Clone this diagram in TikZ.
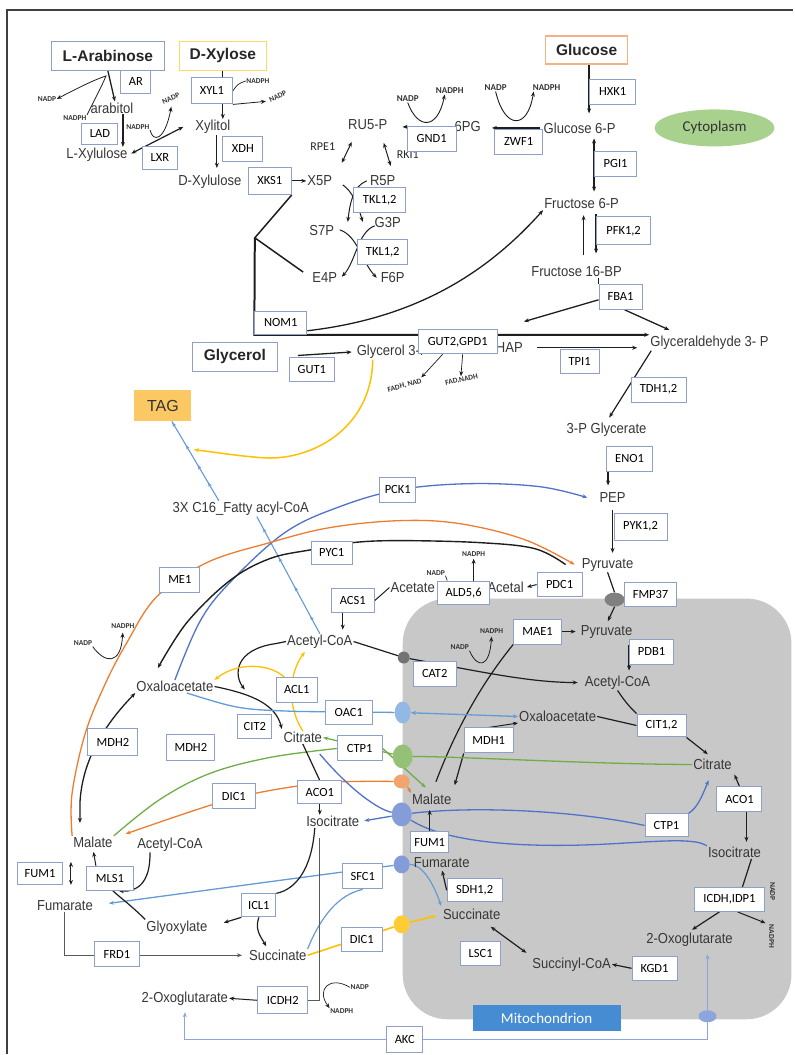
\documentclass[tikz,border=0pt]{standalone}
\usepackage{fontspec}
\setmainfont{Liberation Sans}
\newfontfamily\metfont[FakeStretch=0.9]{Liberation Sans}
\newfontfamily\enzfont{Carlito}
\usetikzlibrary{arrows.meta,shapes.geometric,decorations.markings}
\definecolor{metc}{RGB}{55,55,55}
\definecolor{boxb}{RGB}{140,160,200}
\definecolor{orn}{RGB}{237,125,49}
\definecolor{grn}{RGB}{112,173,71}
\definecolor{blu}{RGB}{80,115,200}
\definecolor{lblu}{RGB}{100,155,215}
\definecolor{yel}{RGB}{255,192,0}
\definecolor{mitog}{RGB}{200,200,200}
\definecolor{mitolab}{RGB}{70,140,210}
\definecolor{tagf}{RGB}{252,200,100}
\definecolor{cytf}{RGB}{169,209,142}
\definecolor{akcb}{RGB}{140,165,220}
\definecolor{glcb}{RGB}{244,177,131}
\definecolor{xylb}{RGB}{255,217,102}
\definecolor{lnc}{RGB}{30,30,30}
\newcommand{\enzbox}[6]{\node[enz,minimum width=#4pt,minimum height=#5pt] (#1) at (#2,#3) {#6};}
\pgfdeclarelayer{bg}
\pgfdeclarelayer{edges}
\pgfsetlayers{bg,edges,main}
\begin{document}
\begin{tikzpicture}[x=1pt,y=-1pt,
  met/.style={font=\metfont\fontsize{14.5}{15}\selectfont, text=metc, inner sep=1pt},
  enz/.style={draw=boxb, line width=1pt, fill=white, font=\enzfont\fontsize{12.5}{13}\selectfont, inner sep=1pt, text=black},
  src/.style={draw=boxb, line width=1.2pt, fill=white, font=\bfseries\fontsize{15.5}{16}\selectfont, inner sep=1pt, text=black!85},
  cof/.style={font=\enzfont\bfseries\fontsize{9}{10}\selectfont, inner sep=0.5pt, text=black!80},
  cofs/.style={font=\enzfont\bfseries\fontsize{7.5}{8}\selectfont, inner sep=0.5pt, text=black!80},
  lab/.style={font=\enzfont\fontsize{12}{13}\selectfont, inner sep=1pt, text=black!85},
  ar/.style={-{Stealth[length=5pt,width=4pt]}, line width=1pt, color=lnc},
  dar/.style={{Stealth[length=5pt,width=4pt]}-{Stealth[length=5pt,width=4pt]}, line width=1pt, color=lnc},
  ln/.style={line width=1pt, color=lnc},
  tr/.style={ellipse, draw=none, inner sep=0pt},
  mkfa/.style={postaction={decorate},decoration={markings,
     mark=at position 0.15 with {\arrow{Stealth[length=4.5pt,width=3.5pt]}},
     mark=at position 0.4 with {\arrow{Stealth[length=4.5pt,width=3.5pt]}},
     mark=at position 0.65 with {\arrow{Stealth[length=4.5pt,width=3.5pt]}},
     mark=at position 0.9 with {\arrow{Stealth[length=4.5pt,width=3.5pt]}}}},
  mktag/.style={postaction={decorate},decoration={markings,
     mark=at position 0.23 with {\arrow{Stealth[length=4.5pt,width=3.5pt]}},
     mark=at position 0.45 with {\arrow{Stealth[length=4.5pt,width=3.5pt]}},
     mark=at position 0.7 with {\arrow{Stealth[length=4.5pt,width=3.5pt]}},
     mark=at position 0.99 with {\arrow{Stealth[length=4.5pt,width=3.5pt]}}}},
]
\begin{pgfonlayer}{bg}
\fill[white] (0,0) rectangle (794,1055);
\draw[line width=1.5pt, black!75] (7,1055) -- (7,10) -- (794,10);
\fill[mitog, rounded corners=45pt] (403,599) rectangle (792,1020);
\end{pgfonlayer}
\useasboundingbox (0,0) rectangle (794,1055);
\node[ellipse, fill=cytf, minimum width=120pt, minimum height=37pt, font=\enzfont\fontsize{15}{16}\selectfont, text=black!80] (cyto) at (715,128) {Cytoplasm};

% ---------------- transporters ----------------
\node[tr,fill=black!55,minimum width=12pt,minimum height=12pt] (cat2t) at (404,658) {};
\node[tr,fill=lblu!70,minimum width=16pt,minimum height=22pt] (oact) at (403,713) {};
\node[tr,fill=grn!75,minimum width=20pt,minimum height=24pt] (ctpgt) at (403,757) {};
\node[tr,fill=orn!70,minimum width=16pt,minimum height=14pt] (dicot) at (402,782) {};
\node[tr,fill=blu!70,minimum width=20pt,minimum height=24pt] (ctpbt) at (402,815) {};
\node[tr,fill=blu!70,minimum width=16pt,minimum height=18pt] (sfct) at (402,865) {};
\node[tr,fill=yel!80,minimum width=16pt,minimum height=18pt] (dicyt) at (402,925) {};
\node[tr,fill=akcb,minimum width=18pt,minimum height=12pt] (akct) at (708,1017) {};
\node[tr,fill=black!50,minimum width=20pt,minimum height=14pt] (fmpt) at (615,600) {};

% ---------------- metabolites ----------------
\node[met] (arabitol) at (112,108) {arabitol};
\node[met] (lxylu) at (97,155) {L-Xylulose};
\node[met] (xylitol) at (213,127) {Xylitol};
\node[met] (dxylu) at (210,182) {D-Xylulose};
\node[met] (x5p) at (320,181) {X5P};
\node[met] (r5p) at (383,181) {R5P};
\node[met] (s7p) at (322,231) {S7P};
\node[met] (g3p) at (388,223) {G3P};
\node[met] (e4p) at (325,278) {E4P};
\node[met] (f6p) at (393,278) {F6P};
\node[met] (ru5p) at (368,125) {RU5-P};
\node[met] (pg6) at (468,127) {6PG};
\node[met] (g6p) at (580,128) {Glucose 6-P};
\node[met] (fru6p) at (582,204) {Fructose 6-P};
\node[met] (fbp) at (577,272) {Fructose 16-BP};
\node[met] (gly3p) at (393,352) {Glycerol 3-P};
\node[met] (dhap) at (505,348) {DHAP};
\node[met] (gap) at (710,343) {Glyceraldehyde 3- P};
\node[met] (pga) at (607,430) {3-P Glycerate};
\node[met] (pep) at (613,498) {PEP};
\node[met] (pyr) at (608,565) {Pyruvate};
\node[met] (acetal) at (506,588) {Acetal};
\node[met] (acetate) at (413,588) {Acetate};
\node[met] (accoa) at (320,642) {Acetyl-CoA};
\node[met] (fa) at (241,509) {3X C16\_Fatty acyl-CoA};
\node[met] (oaa) at (175,687) {Oxaloacetate};
\node[met] (cit) at (303,738) {Citrate};
\node[met] (icit) at (333,822) {Isocitrate};
\node[met] (malc) at (93,843) {Malate};
\node[met] (accoab) at (170,845) {Acetyl-CoA};
\node[met] (fumc) at (65,906) {Fumarate};
\node[met] (glx) at (177,928) {Glyoxylate};
\node[met] (succ) at (278,956) {Succinate};
\node[met] (akg) at (185,999) {2-Oxoglutarate};
\node[met] (mpyr) at (607,632) {Pyruvate};
\node[met] (maccoa) at (618,683) {Acetyl-CoA};
\node[met] (moaa) at (558,717) {Oxaloacetate};
\node[met] (mcit) at (713,765) {Citrate};
\node[met] (mmal) at (432,800) {Malate};
\node[met] (micit) at (735,853) {Isocitrate};
\node[met] (makg) at (690,940) {2-Oxoglutarate};
\node[met] (msucc) at (472,915) {Succinate};
\node[met] (msuccoa) at (572,965) {Succinyl-CoA};
\node[met] (mfum) at (442,863) {Fumarate};

% ---------------- cofactors / labels ----------------
\node[cofs] (nadpa) at (47,99) {NADP};
\node[cofs] (nadpha) at (75,118) {NADPH};
\node[cofs] (nadphb) at (138,127) {NADPH};
\node[cofs, rotate=25] (nadpb) at (171,99) {NADP};
\node[cofs] (nadphc) at (258,81) {NADPH};
\node[cofs, rotate=25] (nadpc) at (278,97) {NADP};
\node[cof] (nadpd) at (408,99) {NADP};
\node[cof] (nadphd) at (450,91) {NADPH};
\node[cof] (nadpe) at (496,88) {NADP};
\node[cof] (nadphe) at (547,88) {NADPH};
\node[cofs, rotate=15] (fadh) at (405,386) {FADH, NAD};
\node[cofs, rotate=12] (fad) at (462,380) {FAD,NADH};
\node[cofs] (nadpf) at (436,573) {NADP};
\node[cofs] (nadphf) at (474,554) {NADPH};
\node[cofs] (nadpg) at (460,648) {NADP};
\node[cofs] (nadphg) at (492,632) {NADPH};
\node[cofs] (nadpm) at (83,644) {NADP};
\node[cofs] (nadphm) at (123,627) {NADPH};
\node[cofs, rotate=-90] (nadpi) at (773,892) {NADP};
\node[cofs, rotate=-90] (nadphi) at (772,937) {NADPH};
\node[cofs] (nadpj) at (360,988) {NADP};
\node[cofs] (nadphj) at (342,1012) {NADPH};
\node[lab] (rpe1) at (323,147) {RPE1};
\node[lab] (rki1) at (408,155) {RKI1};

% ---------------- enzymes ----------------
\enzbox{ar}{136}{82}{30}{23}{AR}
\enzbox{lad}{100}{134}{36}{21}{LAD}
\enzbox{lxr}{160}{158}{35}{23}{LXR}
\enzbox{xyl1}{212}{91}{41}{26}{XYL1}
\enzbox{xdh}{243}{149}{40}{25}{XDH}
\enzbox{xks1}{270}{181}{43}{27}{XKS1}
\enzbox{gnd1}{432}{139}{49}{25}{GND1}
\enzbox{zwf1}{519}{142}{48}{25}{ZWF1}
\enzbox{hxk1}{613}{92}{46}{25}{HXK1}
\enzbox{pgi1}{616}{164}{42}{25}{PGI1}
\enzbox{pfk}{624}{231}{54}{28}{PFK1,2}
\enzbox{tkla}{380}{200}{52}{25}{TKL1,2}
\enzbox{tklb}{383}{252}{50}{25}{TKL1,2}
\enzbox{nom1}{281}{323}{52}{23}{NOM1}
\enzbox{fba1}{621}{297}{43}{25}{FBA1}
\enzbox{gut2}{458}{342}{79}{24}{GUT2,GPD1}
\enzbox{gut1}{312}{370}{45}{24}{GUT1}
\enzbox{tpi1}{580}{362}{39}{24}{TPI1}
\enzbox{tdh}{659}{390}{55}{25}{TDH1,2}
\enzbox{eno1}{630}{459}{46}{25}{ENO1}
\enzbox{pyk}{641}{527}{53}{27}{PYK1,2}
\enzbox{pck1}{398}{490}{36}{25}{PCK1}
\enzbox{pdc1}{560}{585}{45}{24}{PDC1}
\enzbox{ald}{464}{593}{52}{23}{ALD5,6}
\enzbox{acs1}{353}{601}{43}{24}{ACS1}
\enzbox{pyc1}{332}{553}{41}{23}{PYC1}
\enzbox{me1}{180}{580}{40}{25}{ME1}
\enzbox{fmp}{651}{595}{52}{24}{FMP37}
\enzbox{mae1}{538}{632}{48}{25}{MAE1}
\enzbox{pdb1}{652}{652}{44}{25}{PDB1}
\enzbox{cat2}{435}{674}{43}{25}{CAT2}
\enzbox{acl1}{297}{690}{41}{25}{ACL1}
\enzbox{oac1}{349}{713}{47}{25}{OAC1}
\enzbox{cit2}{255}{727}{34}{25}{CIT2}
\enzbox{cit12}{662}{726}{49}{23}{CIT1,2}
\enzbox{mdh1}{489}{741}{49}{25}{MDH1}
\enzbox{mdha}{113}{743}{50}{27}{MDH2}
\enzbox{mdhb}{191}{748}{48}{26}{MDH2}
\enzbox{ctpa}{360}{749}{45}{25}{CTP1}
\enzbox{dica}{234}{797}{43}{25}{DIC1}
\enzbox{acoa}{320}{793}{44}{23}{ACO1}
\enzbox{acob}{740}{800}{45}{25}{ACO1}
\enzbox{ctpb}{667}{826}{43}{23}{CTP1}
\enzbox{fuma}{40}{874}{45}{22}{FUM1}
\enzbox{mls1}{110}{879}{47}{24}{MLS1}
\enzbox{fumb}{430}{843}{38}{21}{FUM1}
\enzbox{sfc1}{363}{877}{40}{25}{SFC1}
\enzbox{icl1}{259}{906}{34}{23}{ICL1}
\enzbox{sdh}{475}{891}{55}{23}{SDH1,2}
\enzbox{icdh}{730}{900}{70}{24}{ICDH,IDP1}
\enzbox{dicb}{362}{940}{41}{24}{DIC1}
\enzbox{frd1}{117}{955}{45}{25}{FRD1}
\enzbox{lsc1}{481}{954}{40}{24}{LSC1}
\enzbox{kgd1}{655}{969}{45}{24}{KGD1}
\enzbox{icdh2}{283}{1001}{50}{27}{ICDH2}
\enzbox{akc}{405}{1040}{36}{26}{AKC}

% ---------------- sources & labels ----------------
\node[src, minimum width=113pt, minimum height=29pt] (larab) at (108,56) {L-Arabinose};
\node[src, draw=xylb, minimum width=87pt, minimum height=29pt] (dxyl) at (223,56) {D-Xylose};
\node[src, draw=glcb, minimum width=82pt, minimum height=28pt] (glc) at (587,50) {Glucose};
\node[src, minimum width=85pt, minimum height=29pt] (glyc) at (235,357) {Glycerol};
\node[fill=tagf, minimum width=57pt, minimum height=31pt, font=\fontsize{16}{17}\selectfont, text=black!80] (tag) at (163,406) {TAG};
\node[fill=mitolab, minimum width=148pt, minimum height=26pt, font=\enzfont\fontsize{15}{16}\selectfont, text=white] (mitol) at (547,1019) {Mitochondrion};

% ---------------- connectors ----------------
\begin{pgfonlayer}{edges}
% top-left
\draw[ar,line width=1.3pt] (larab.south) -- ([xshift=3pt]arabitol.north);
\draw[ar,line width=0.8pt] (nadpha.north east) .. controls (97,95) and (103,84) .. (106,76) .. controls (94,80) and (80,87) .. (nadpa.east);
\coordinate (arx) at ([xshift=11pt]arabitol.south);
\draw[ar,line width=1.3pt] (arx) -- (arx |- lxylu.north);
\draw[dar,line width=1.2pt,shorten <=3pt] (lxylu.east) -- ([xshift=-11pt]xylitol.west);
\draw[ar,line width=0.8pt,shorten >=5pt] (nadphb.south east) .. controls (153,143) and (165,141) .. (nadpb.south);
\draw[ar,line width=1.2pt] (dxyl.south) -- (dxyl.south |- xylitol.north);
\draw[ln,line width=0.7pt] (xyl1.east) .. controls (238,84) .. (nadphc.west);
\draw[ar,line width=0.8pt,shorten >=3pt] (xyl1.south east) -- (nadpc.west);
\coordinate (xdhx) at ([xshift=4pt]xylitol.south);
\draw[ar,line width=1.3pt,shorten >=6pt] (xdhx) -- (xdhx |- dxylu.north);
\draw[ar] (xks1.east) -- (x5p.west);
% pentose phosphate
\draw[ar,line width=1.8pt,shorten <=4pt,shorten >=14pt] (pg6.west) -- (pg6.west -| ru5p.east);
\draw[ar,line width=0.9pt] (nadpd.south) .. controls (418,130) and (438,130) .. ([xshift=-5pt]nadphd.south);
\draw[ar,line width=1.8pt,shorten <=3pt,shorten >=10pt] (g6p.west) -- (g6p.west -| pg6.east);
\draw[ar,line width=0.9pt] (nadpe.south) .. controls (505,130) and (528,130) .. ([xshift=-13pt]nadphe.south);
\draw[dar] (352,142) -- (342,163);
\draw[dar] (384,143) -- (391,166);
\draw[ar] (343,185) .. controls (353,192) and (358,205) .. (363,222);
\draw[ar] (367,181) .. controls (353,186) and (350,205) .. (348,222);
\draw[ar] (375,226) .. controls (358,232) and (356,262) .. (342,277);
\draw[ar] (340,230) .. controls (358,236) and (362,262) .. (377,278);
\coordinate (jct) at (255,238);
\draw[ln,line width=1.5pt,shorten >=10pt] (xks1.south east) -- (jct) -- (e4p.west);
\draw[ar,line width=2pt] (jct) -- (nom1.south west) -- (nom1.south west -| gap.west);
\draw[ar,line width=1.3pt] ([yshift=-8pt]nom1.east) .. controls (420,318) and (490,270) .. (fru6p.south west);
% glycolysis
\draw[ar,line width=1.4pt,shorten >=8pt] (glc.south -| hxk1.west) -- (g6p.north -| hxk1.west);
\draw[dar,line width=1.4pt,shorten <=4pt,shorten >=6pt] (g6p.south -| pgi1.west) -- (fru6p.north -| pgi1.west);
\draw[ar,line width=1.4pt,shorten <=4pt,shorten >=12pt] (fru6p.south -| pfk.west) -- (fbp.north -| pfk.west);
\coordinate (fbpx) at ([xshift=7pt]fbp.north);
\draw[ar,line width=1pt,shorten <=10pt,shorten >=5pt] (fbpx) -- (fbpx |- fru6p.south);
\draw[ln,line width=1.2pt] (fbp.south -| fba1.west) -- (fba1.north west);
\draw[ar,line width=1.3pt] ([yshift=-3pt]fba1.west) -- ([yshift=20pt]dhap.north east);
\draw[ar,line width=1.3pt,shorten >=2pt] ([xshift=4pt]fba1.south) -- ([xshift=22pt,yshift=4pt]gap.north west);
\draw[ar,line width=1.4pt,shorten <=13pt,shorten >=12pt] (dhap.east) -- (dhap.east -| gap.west);
\draw[ar,line width=1.2pt,shorten >=5pt] ([xshift=2pt]gap.south west) -- (pga.north);
\coordinate (enox) at ([xshift=2pt]eno1.south west);
\draw[ar,line width=1.2pt,shorten >=6pt] (enox) -- (enox |- pep.north);
\draw[ar,line width=1.2pt,shorten <=6pt,shorten >=4pt] (pep.south) -- (pep.south |- pyr.north);
% glycerol
\draw[ar,line width=1.3pt,shorten <=20pt,shorten >=4pt] (glyc.east) -- (gly3p.west);
\draw[ar,line width=0.7pt] ([xshift=-15pt]gut2.south) -- (fadh.north east);
\draw[ar,line width=0.7pt] ([xshift=5pt]gut2.south) -- (fad.north);
\coordinate (tagj) at (194,450);
\draw[ar,yel,line width=1.5pt] ([xshift=-20pt]gly3p.south) .. controls (372,430) and (310,462) .. (262,458) .. controls (235,456) and (212,452) .. (tagj);
% fatty acids
\draw[lblu,line width=1.1pt,mkfa] (accoa.north) -- ([xshift=16pt]fa.south);
\draw[lblu,line width=1.1pt,mktag] ([xshift=-22pt]fa.north) -- ([xshift=9pt]tag.south);
% big arcs
\draw[ar,blu,line width=1.3pt] plot[smooth,tension=0.6] coordinates {(oaa.north) (200,622) (230,583) (285,533) (340,507) (400,490) (470,484) (540,487) ([xshift=-11pt]pep.west)};
\draw[ar,orn,line width=1.3pt] plot[smooth,tension=0.6] coordinates {(malc.north west) (72,795) (85,735) (105,685) (127,643) (157,597) (207,563) (270,543) (330,528) (400,521) (460,524) (525,540) ([xshift=-6pt]pyr.west)};
\draw[ar,line width=1.4pt] plot[smooth,tension=0.6] coordinates {([xshift=-15pt]pyr.west) (535,549) (480,543) (400,541) (353,543) (312,550) (270,559) (230,581) (187,623) ([shift={(-17,-12)}]oaa.north)};
\draw[ar,line width=0.8pt,shorten >=3pt] (nadpm.south east) .. controls (105,664) and (121,666) .. (nadphm.south);
% pyruvate / acetyl-CoA
\draw[ar,shorten >=2pt] (pdc1.west) -- (acetal.east);
\draw[ln,line width=0.7pt] (nadpf.south east) -- ([xshift=10pt]ald.north west);
\coordinate (aldx) at ([xshift=10pt]ald.north);
\draw[ar,line width=0.8pt,shorten >=2pt] (aldx) -- (aldx |- nadphf.south);
\draw[ln] (acetate.west) -- (acs1.east);
\coordinate (acsx) at ([xshift=-10pt]acs1.south);
\draw[ar,shorten >=4pt] (acsx) -- (acsx |- accoa.north);
\draw[ln,line width=1.2pt] (pyr.south) -- (fmpt.north);
\draw[ar,line width=1.2pt,shorten >=3pt] (fmpt.south) -- (mpyr.north);
\draw[ar,line width=1.2pt,shorten <=6pt,shorten >=4pt] (mpyr.south -| pdb1.west) -- (maccoa.north -| pdb1.west);
\draw[ar,shorten >=4pt] (mae1.east) -- (mpyr.west);
\draw[ln,line width=1.2pt,shorten <=12pt] (mmal.north) .. controls (458,725) and (485,680) .. (mae1.south west);
\draw[ar,line width=0.8pt,shorten >=2pt] (nadpg.south east) .. controls (478,670) and (490,668) .. (nadphg.south);
\draw[ln,line width=1.2pt] (accoa.east) -- (cat2t);
\draw[ar,line width=1.2pt,shorten >=6pt] (cat2t) .. controls (480,672) and (530,683) .. (maccoa.west);
\draw[ln,line width=1.2pt] (maccoa.south) .. controls (628,706) and (633,710) .. (cit12.north west);
\draw[ln,line width=1.2pt] (moaa.east) -- (cit12.west);
\draw[ar,line width=1.2pt,shorten >=6pt] (cit12.south east) -- (mcit.north);
\draw[ar,line width=1.2pt,shorten >=8pt] (mdh1.south west) -- (mmal.north east);
\draw[ar,line width=1pt] (mdh1.north) -- (moaa.south west);
% cytosolic citrate region
\coordinate (j1) at (245,690);
\draw[ar,line width=1.2pt] (accoa.west) -- ++(-10,2) .. controls (234,650) and (234,676) .. (j1);
\draw[ar,line width=1.2pt,shorten >=2pt] (oaa.east) .. controls (255,695) and (276,706) .. (cit.north west);
\draw[ar,yel,line width=1.3pt,shorten >=3pt] (cit.north) .. controls (286,705) and (290,672) .. ([xshift=-13pt]accoa.south);
\coordinate (j2) at (291,686);
\draw[ar,yel,line width=1.3pt] (j2) .. controls (280,664) and (240,660) .. (oaa.north east);
\draw[dar,lblu,line width=1.3pt] ([xshift=12pt]oaa.south) .. controls (240,710) .. (300,712) -- (oact) -- (moaa.west);
% CTP1 green
\draw[ar,grn,line width=1.3pt] (mcit.west) .. controls (600,765) and (460,757) .. (ctpgt) -- (cit.east);
\draw[ar,grn,line width=1.3pt,shorten >=8pt] (ctpa.east) -- (mmal.north);
\draw[grn,line width=1.3pt] plot[smooth,tension=0.6] coordinates {(ctpa.west) (270,758) (210,774) (160,800) (malc.north east)};
% DIC1 orange
\draw[ar,orn,line width=1.3pt] plot[smooth,tension=0.6] coordinates {(dicot.west) (330,783) (265,792) (213,805) ([xshift=12pt,yshift=2pt]malc.north east)};
\draw[ar,orn,line width=1.2pt] (dicot.south east) -- (mmal.north west);
% CTP1 blue
\draw[blu,line width=1.3pt] ([xshift=17pt,yshift=-10pt]cit.south) .. controls (350,790) and (378,810) .. (ctpbt);
\draw[ar,blu,line width=1.3pt,shorten >=4pt] (ctpbt) -- (icit.east);
\draw[blu,line width=1.3pt] (ctpbt) .. controls (480,806) and (580,812) .. (ctpb.west);
\draw[ar,blu,line width=1.3pt,shorten >=10pt] (ctpb.north east) .. controls (698,808) and (702,798) .. (mcit.south);
\draw[blu,line width=1.3pt] (ctpbt) .. controls (450,845) and (530,848) .. (600,845) .. controls (660,842) and (695,838) .. (micit.north west);
% SFC1
\draw[ar,lblu,line width=1.3pt,shorten >=15pt] (sfct) .. controls (340,873) .. (265,883) -- (fumc.east);
\draw[ar,lblu,line width=1.2pt,shorten >=2pt] (sfct) .. controls (422,865) and (433,882) .. (msucc.north west);
\draw[lblu,line width=1.2pt] (succ.north east) .. controls (322,915) and (340,895) .. (sfc1.south);
% DIC1 yellow
\draw[ar,yel,line width=1.6pt,shorten >=6pt] (succ.east) -- (dicyt) -- (msucc.west);
% mitochondrial TCA
\draw[ar,line width=1.2pt,shorten >=4pt] (acob.north) -- (mcit.south east);
\coordinate (acobx) at ([xshift=7pt]acob.south);
\draw[ar,line width=1.2pt,shorten >=4pt] (acobx) -- (acobx |- micit.north);
\draw[ln,line width=1.2pt] ([xshift=17pt]micit.south) -- ([xshift=13pt]icdh.north);
\draw[ar,line width=1.2pt,shorten >=3pt] ([xshift=-10pt]icdh.south) -- (makg.north);
\draw[ar,line width=1pt,shorten >=3pt] ([xshift=8pt]icdh.south) -- (nadphi.south west);
\draw[ar,line width=1.2pt] (kgd1.west) -- (msuccoa.east);
\coordinate (lscx) at ([xshift=11pt]msucc.south);
\draw[dar,line width=1.2pt,shorten <=10pt,shorten >=6pt] (lscx) -- (msuccoa.north west);
\draw[ar,line width=1.2pt,shorten >=2pt] (sdh.west) -- (mfum.south);
\draw[ar,line width=1.2pt,shorten >=4pt] (fumb.north) -- (fumb.north |- mmal.south);
% cytosol lower
\draw[ln,line width=1.2pt] (cit.south) -- (acoa.north);
\draw[ar,line width=1pt] (acoa.south) -- (acoa.south |- icit.north);
\draw[ln,line width=1.2pt] ([xshift=-18pt]icit.south) .. controls (312,870) and (296,890) .. (icl1.north east);
\draw[ar,line width=1.2pt,shorten >=16pt] (icl1.south west) -- (glx.east);
\draw[ar,line width=1.2pt,shorten >=3pt] (icl1.south) .. controls (255,930) and (260,936) .. ([xshift=-10pt]succ.north);
\coordinate (icdv) at ([xshift=-13pt,yshift=-10pt]icit.south);
\draw[line width=0.8pt,black!65] (icdh2.east) -| (icdv);
\draw[ar,line width=1pt] (icdh2.west) -- (akg.east);
\draw[ar,line width=0.7pt] (nadpj.west) .. controls (330,976) and (316,990) .. (nadphj.north west);
\draw[ar,black!65,line width=1pt,shorten >=6pt] (fumc.south) |- (succ.west);
\draw[dar,line width=1pt] ([xshift=8pt]fuma.north east) -- ([xshift=8pt]fuma.south east);
\draw[ar,line width=1pt,shorten >=3pt] ([xshift=10pt]mls1.north west) -- (malc.south);
\draw[ar,line width=1.2pt] ([xshift=-20pt]accoab.south) .. controls (151,884) and (136,893) .. ([xshift=9pt]mls1.south);
\draw[ln,line width=1.2pt] (glx.north west) .. controls (130,905) and (120,898) .. ([xshift=3pt]mls1.south);
\draw[dar,line width=1.3pt,shorten <=13pt] ([xshift=-13pt]malc.north) -- ++(0,-33) .. controls (82,765) and (100,730) .. (oaa.south west);
% AKC
\draw[ar,akcb,line width=1.2pt,shorten >=7pt] (akct.north) -- (akct.north |- makg.south);
\draw[ar,akcb,line width=1.2pt,shorten >=6pt] (akct.south) |- (akc.east) -- (akc.west) -| (akg.south);
\end{pgfonlayer}
\end{tikzpicture}
\end{document}
